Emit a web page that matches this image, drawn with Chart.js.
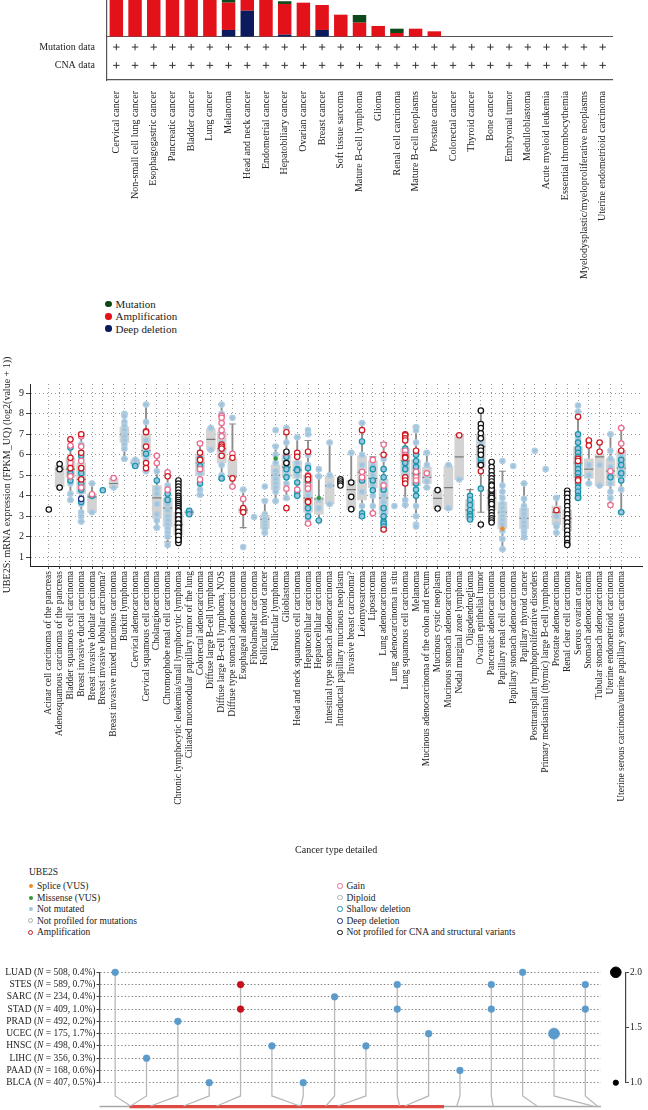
<!DOCTYPE html>
<html><head><meta charset="utf-8">
<script src="https://cdn.jsdelivr.net/npm/chart.js@4.4.0/dist/chart.umd.min.js"></script>
<style>
html,body{margin:0;padding:0;background:#fff;}
body{width:648px;height:1110px;position:relative;overflow:hidden;font-family:'Liberation Serif','Times New Roman',serif;color:#222;}
canvas{position:absolute;}
.t{position:absolute;white-space:nowrap;line-height:12px;}
.m{position:absolute;border-radius:50%;box-sizing:border-box;}
</style></head><body>
<canvas id="cA1" width="648" height="80" style="left:0;top:-43px"></canvas>
<canvas id="cA2" width="648" height="265" style="left:0;top:25px"></canvas>
<canvas id="cB" width="648" height="518" style="left:0;top:340px"></canvas>
<canvas id="cC" width="648" height="148" style="left:0;top:962px"></canvas>
<canvas id="cD" width="52" height="148" style="left:596px;top:962px"></canvas>
<script>
// ---------------- Panel A data ----------------
const topCats = ['Cervical cancer','Non-small cell lung cancer','Esophagogastric cancer','Pancreatic cancer','Bladder cancer','Lung cancer','Melanoma','Head and neck cancer','Endometrial cancer','Hepatobiliary cancer','Ovarian cancer','Breast cancer','Soft tissue sarcoma','Mature B-cell lymphoma','Glioma','Renal cell carcinoma','Mature B-cell neoplasms','Prostate cancer','Colorectal cancer','Thyroid cancer','Bone cancer','Embryonal tumor','Medulloblastoma','Acute myeloid leukemia','Essential thrombocythemia','Myelodysplastic/myeloproliferative neoplasms','Uterine endometrioid carcinoma'];
const deepDeletionPct = [0,0,0,0,0,0,0.88,3.29,0,0.29,0,0.88,0,0,0,0,0,0,0,0,0,0,0,0,0,0,0];
const amplificationPct = [8.3,6.9,6.2,5.6,5.3,5.0,3.41,1.36,4.63,3.84,4.29,3.12,2.79,1.79,1.38,0.5,1.04,0.71,0,0,0,0,0,0,0,0,0];
const mutationPct = [0,0,0,0,0,0,0.45,0,0,0.34,0,0,0,0.96,0,0.54,0,0,0,0,0,0,0,0,0,0,0];
const mutationProfiled = [1,1,1,1,1,1,1,1,1,1,1,1,1,1,1,1,1,1,1,1,1,1,1,1,1,1,1];
const cnaProfiled = [1,1,1,1,1,1,1,1,1,1,1,1,1,1,1,1,1,1,1,1,1,1,1,1,1,1,1];
const profileRows = ['Mutation data','CNA data'];
const topYTicks = [0,5,10];

// ---------------- Panel B data ----------------
const detailCats = ['Acinar cell carcinoma of the pancreas','Adenosquamous carcinoma of the pancreas','Bladder squamous cell carcinoma','Breast invasive ductal carcinoma','Breast invasive lobular carcinoma','Breast invasive lobular carcinoma?','Breast invasive mixed mucinous carcinoma','Burkitt lymphoma','Cervical adenocarcinoma','Cervical squamous cell carcinoma','Cholangiocarcinoma','Chromophobe renal cell carcinoma','Chronic lymphocytic leukemia/small lymphocytic lymphoma','Ciliated muconodular papillary tumor of the lung','Colorectal adenocarcinoma','Diffuse large B-cell lymphoma','Diffuse large B-cell lymphoma, NOS','Diffuse type stomach adenocarcinoma','Esophageal adenocarcinoma','Fibrolamellar carcinoma','Follicular thyroid cancer','Follicular lymphoma','Glioblastoma','Head and neck squamous cell carcinoma','Hepatocellular carcinoma','Hepatocellular carcinoma','Intestinal type stomach adenocarcinoma','Intraductal papillary mucinous neoplasm','Invasive breast carcinoma?','Leiomyosarcoma','Liposarcoma','Lung adenocarcinoma','Lung adenocarcinoma in situ','Lung squamous cell carcinoma','Melanoma','Mucinous adenocarcinoma of the colon and rectum','Mucinous cystic neoplasm','Mucinous stomach adenocarcinoma','Nodal marginal zone lymphoma','Oligodendroglioma','Ovarian epithelial tumor','Pancreatic adenocarcinoma','Papillary renal cell carcinoma','Papillary stomach adenocarcinoma','Papillary thyroid cancer','Posttransplant lymphoproliferative disorders','Primary mediastinal (thymic) large B-cell lymphoma','Prostate adenocarcinoma','Renal clear cell carcinoma','Serous ovarian cancer','Stomach adenocarcinoma','Tubular stomach adenocarcinoma','Uterine endometrioid carcinoma','Uterine serous carcinoma/uterine papillary serous carcinoma'];
const boxQ1 =  [null,4.45,4.9,4.1,3.2,null,4.4,6.6,5.5,5.9,2.9,2.5,2.1,3.1,5.0,6.25,5.6,4.9,3.15,null,2.4,4.3,4.9,4.85,3.2,3.1,3.6,null,3.35,3.8,4.4,3.1,null,4.8,4.5,4.6,3.38,3.35,4.8,2.9,5.4,3.3,2.4,null,2.4,null,null,2.6,2.3,4.9,4.85,4.5,4.5,4.9];
const boxMed = [null,5.3,5.3,4.8,3.95,null,4.6,7.0,5.6,6.2,3.9,3.4,2.6,3.2,5.6,6.75,6.3,4.95,3.3,null,2.85,5.0,5.4,5.25,3.9,3.85,4.5,null,4.3,5.15,4.85,3.9,null,5.7,5.1,4.9,3.88,4.4,5.9,3.3,6.4,3.9,3.2,null,2.9,null,null,3.2,2.9,5.6,5.3,5.9,5.2,5.35];
const boxQ3 =  [null,5.45,5.85,5.6,4.1,null,4.85,7.35,5.75,7.0,4.5,3.9,3.2,3.27,6.0,7.25,7.1,5.8,3.4,null,3.05,5.5,6.0,5.7,5.0,3.9,4.97,null,4.75,5.95,5.7,4.8,null,6.3,5.75,5.4,4.28,5.45,6.95,3.8,7.0,4.3,3.7,null,3.4,null,null,3.5,3.3,6.4,5.8,6.0,5.8,6.2];
const whiskLo = [null,4.4,3.8,2.75,3.2,null,4.4,5.8,5.45,5.2,2.45,1.75,1.7,3.1,4.05,6.2,4.8,4.45,2.45,null,2.2,3.75,3.85,4.0,2.6,2.8,3.6,null,3.35,2.95,3.15,2.3,null,3.55,3.0,4.4,3.38,3.35,4.8,2.85,3.2,2.7,1.4,null,1.9,null,null,2.2,1.6,3.9,4.6,4.5,3.6,3.2];
const whiskHi = [null,5.55,6.75,7.0,4.6,null,4.87,8.0,5.75,8.45,5.95,5.15,4.75,3.27,6.6,7.3,8.45,7.5,4.3,null,3.8,6.45,7.3,6.85,6.7,4.95,6.6,null,6.1,7.55,5.9,6.6,null,7.0,7.35,6.1,4.28,5.5,6.95,4.3,8.15,5.65,5.2,null,4.6,null,null,3.95,4.25,8.1,6.7,6.6,7.0,7.3];
const yTicksB = [1,2,3,4,5,6,7,8,9];
// points: [category index, log2 expression]
const ptDiploid = [[2,5.5],[2,5.2],[2,4.6],[2,4.1],[2,3.8],[3,6.5],[3,5.8],[3,5.0],[3,4.2],[3,3.6],[3,3.2],[3,3.0],[3,2.75],[3,4.5],[4,4.6],[4,3.2],[6,4.4],[7,8.0],[7,7.9],[7,7.6],[7,7.4],[7,7.2],[7,7.0],[7,6.9],[7,6.7],[7,6.5],[7,6.3],[7,5.8],[8,5.6],[8,5.75],[9,8.45],[9,7.6],[9,6.7],[9,6.2],[9,5.8],[9,5.2],[10,5.2],[10,4.35],[10,4.1],[10,3.6],[10,3.1],[10,2.8],[10,2.45],[11,5.0],[11,4.5],[11,3.9],[11,3.6],[11,3.3],[11,3.0],[11,2.8],[11,2.6],[11,2.4],[11,2.2],[11,2.0],[11,1.6],[14,5.6],[14,5.1],[14,4.3],[14,4.05],[15,7.3],[15,6.25],[16,8.45],[16,8.0],[16,7.0],[16,6.6],[16,6.2],[16,5.5],[16,5.0],[17,7.8],[17,4.9],[18,4.3],[18,1.5],[19,2.97],[20,4.45],[20,3.75],[20,3.1],[20,2.95],[20,2.85],[20,2.7],[20,2.55],[20,2.4],[20,2.2],[21,7.2],[21,6.4],[21,6.0],[21,5.6],[21,5.2],[21,5.0],[21,4.8],[21,4.6],[21,4.4],[21,4.2],[21,3.75],[22,7.3],[22,6.6],[22,5.0],[22,4.6],[22,3.9],[23,6.85],[23,5.6],[23,5.0],[24,7.2],[24,7.0],[24,6.0],[24,5.5],[24,4.2],[24,4.0],[24,3.6],[24,3.2],[24,2.9],[25,5.3],[25,4.95],[25,3.8],[25,3.4],[26,6.6],[26,5.0],[26,4.5],[26,3.6],[28,6.1],[29,7.55],[29,6.0],[29,5.5],[29,4.2],[29,3.5],[30,5.5],[30,5.0],[30,4.5],[30,4.0],[30,3.5],[31,5.8],[31,4.6],[31,4.0],[31,3.7],[31,3.2],[31,2.9],[32,3.5],[33,5.5],[33,5.0],[33,3.8],[33,3.55],[34,7.35],[34,7.2],[34,6.6],[34,5.5],[34,3.5],[34,3.0],[34,2.6],[34,2.5],[35,6.1],[35,5.5],[35,5.0],[35,4.7],[35,4.4],[37,5.5],[37,3.4],[38,4.8],[40,6.6],[40,5.9],[42,5.7],[42,4.5],[42,4.2],[42,3.9],[42,3.6],[42,3.4],[42,3.2],[42,3.0],[42,2.8],[42,2.6],[42,2.3],[42,1.9],[42,1.4],[43,5.45],[44,4.6],[44,3.86],[44,3.5],[44,3.3],[44,3.1],[44,2.9],[44,2.7],[44,2.5],[44,2.3],[44,2.2],[44,2.0],[45,6.2],[46,5.3],[47,3.9],[47,3.0],[47,2.6],[47,2.5],[47,2.2],[48,3.0],[48,2.6],[48,2.2],[48,1.8],[49,8.4],[49,8.1],[49,6.8],[50,6.7],[50,5.5],[50,5.0],[50,4.6],[51,5.5],[51,4.5],[52,7.0],[52,6.2],[52,5.8],[52,5.4],[52,5.0],[52,4.6],[52,4.2],[52,3.9],[53,6.0],[53,5.3],[53,4.9],[53,4.3]];
const ptShallow = [[2,6.35],[2,5.1],[2,4.75],[3,5.95],[3,5.1],[3,4.6],[3,4.3],[3,3.7],[4,4.0],[5,4.27],[8,5.45],[9,6.05],[10,4.75],[11,4.1],[11,3.8],[13,3.27],[13,3.1],[14,5.8],[14,5.45],[14,4.6],[16,4.85],[22,5.9],[22,5.6],[22,5.3],[22,4.9],[23,5.3],[23,5.25],[23,4.65],[23,4.2],[23,4.0],[24,5.35],[24,4.9],[24,4.7],[24,3.4],[24,3.0],[25,2.8],[29,6.65],[29,4.75],[29,3.15],[29,3.0],[30,5.3],[30,4.75],[30,4.27],[31,5.3],[31,4.9],[31,4.3],[31,3.4],[31,3.0],[31,2.73],[31,2.65],[31,2.5],[33,6.3],[33,6.1],[33,5.6],[33,5.3],[34,6.0],[34,5.7],[34,5.4],[34,5.0],[34,4.6],[34,4.3],[34,4.0],[39,4.0],[39,3.8],[39,3.55],[39,3.3],[39,3.1],[39,3.0],[39,2.85],[40,6.1],[40,5.8],[40,5.6],[40,4.35],[49,7.0],[49,6.6],[49,6.3],[49,6.1],[49,5.9],[49,5.5],[49,5.3],[49,5.1],[49,4.9],[49,4.6],[49,4.4],[49,4.2],[49,4.0],[49,3.9],[52,4.9],[53,5.75],[53,5.5],[53,5.1],[53,4.75],[53,3.2]];
const ptGain = [[2,6.45],[2,5.6],[2,4.95],[3,6.9],[3,6.4],[3,5.7],[3,4.4],[4,4.08],[6,4.87],[10,5.95],[10,5.6],[11,5.15],[11,4.3],[14,6.55],[14,5.3],[14,4.8],[16,7.9],[16,7.8],[16,7.55],[16,7.2],[16,6.9],[17,6.05],[17,4.45],[18,3.85],[22,6.1],[22,4.35],[23,6.05],[23,4.3],[24,5.0],[24,4.5],[24,4.35],[24,2.65],[29,5.17],[29,4.9],[30,5.75],[30,3.15],[31,6.5],[31,4.5],[33,6.2],[33,6.0],[34,5.17],[34,4.9],[34,4.75],[35,5.1],[48,2.9],[52,5.2],[52,3.55],[53,7.3],[53,6.55]];
const ptAmp = [[2,6.75],[2,5.85],[2,5.35],[3,7.0],[3,6.1],[3,5.35],[3,4.8],[9,7.15],[9,7.1],[9,6.4],[9,5.6],[9,5.35],[11,4.95],[14,6.1],[14,5.75],[16,6.5],[16,6.4],[16,6.3],[16,5.95],[17,5.85],[17,4.85],[18,3.4],[18,3.2],[22,7.1],[22,3.4],[23,6.1],[23,5.9],[24,6.15],[24,4.95],[24,4.8],[24,3.75],[24,3.7],[29,7.2],[31,6.0],[31,2.36],[33,7.0],[33,6.95],[33,6.8],[33,6.7],[33,5.9],[33,5.85],[33,4.9],[33,4.75],[33,4.6],[34,6.2],[38,6.95],[40,5.5],[40,5.2],[47,3.3],[49,7.85],[49,5.8],[49,5.7],[49,4.8],[49,4.75],[50,6.7],[50,6.45],[51,6.6],[51,6.15],[53,6.2]];
const ptDeep = [[3,3.85]];
const ptNoCNA = [[0,3.33],[1,5.55],[1,5.3],[1,4.4],[12,4.75],[12,4.6],[12,4.45],[12,4.3],[12,4.15],[12,4.0],[12,3.9],[12,3.8],[12,3.7],[12,3.6],[12,3.5],[12,3.4],[12,3.3],[12,3.2],[12,3.1],[12,3.0],[12,2.9],[12,2.8],[12,2.7],[12,2.6],[12,2.5],[12,2.4],[12,2.3],[12,2.2],[12,2.1],[12,2.0],[12,1.9],[12,1.8],[12,1.7],[12,2.95],[12,2.75],[12,2.55],[12,2.35],[12,2.15],[12,1.95],[12,3.25],[12,3.05],[12,2.85],[12,2.65],[12,2.45],[12,2.25],[12,2.05],[12,1.85],[22,6.15],[22,5.6],[27,4.8],[27,4.7],[27,4.6],[27,4.5],[28,4.65],[28,3.95],[28,3.35],[36,4.28],[36,3.38],[40,8.15],[40,7.5],[40,7.3],[40,7.05],[40,6.8],[40,6.35],[40,6.2],[40,6.0],[40,5.5],[40,2.6],[41,5.65],[41,5.4],[41,5.2],[41,5.0],[41,4.85],[41,4.7],[41,4.55],[41,4.4],[41,4.25],[41,4.1],[41,3.95],[41,3.8],[41,3.65],[41,3.5],[41,3.35],[41,3.2],[41,3.05],[41,2.9],[41,2.8],[41,2.7],[41,4.0],[41,3.9],[41,3.7],[41,3.6],[41,4.3],[41,4.5],[48,4.25],[48,4.1],[48,3.9],[48,3.7],[48,3.5],[48,3.3],[48,3.1],[48,2.9],[48,2.7],[48,2.5],[48,2.3],[48,2.1],[48,1.9],[48,1.7],[48,1.6]];
const ptMissense = [[21,5.82],[25,3.9]];
const ptSplice = [[42,2.4]];

// ---------------- Panel C data ----------------
const studies = ['LUAD','STES','SARC','STAD','PRAD','UCEC','HNSC','LIHC','PAAD','BLCA'];
const studyN = [508,589,234,409,492,175,498,356,168,407];
const studyPct = ['0.4','0.7','0.4','1.0','0.2','1.7','0.4','0.3','0.6','0.5'];
const lolliStudy = ['LUAD','LUAD','STES','STES','STES','STES','SARC','STAD','STAD','STAD','STAD','PRAD','UCEC','UCEC','HNSC','HNSC','LIHC','PAAD','BLCA','BLCA'];
const lolliCol   = [0,13,4,9,12,15,7,4,9,12,15,2,10,14,5,8,1,11,3,6];
const lolliCount = [1,1,1,1,1,1,1,1,1,1,1,1,1,2,1,1,1,1,1,1];
const lolliGroup = ['blue','blue','red','blue','blue','blue','blue','red','blue','blue','blue','blue','blue','blue','blue','blue','blue','blue','blue','blue'];
const stemTarget = [0.49,0.49,1.13,2.18,3.24,5.89,5.92,6.72,7.1,9.08,9.24,10.9,12.06,13.46,15.25,15.38];
const proteinSpan = [-0.5,15.5];
const domainSpan = [0.46,10.49];
const sizeLegendValues = [1,2];

// ---------------- common ----------------
const SERIF = "'Liberation Serif','Times New Roman',serif";
Chart.defaults.font.family = SERIF;
Chart.defaults.color = '#222';
const base = {responsive:false, animation:false, devicePixelRatio:1, plugins:{legend:{display:false}, tooltip:{enabled:false}}};

// ---------------- Panel A: stacked bars ----------------
new Chart(document.getElementById('cA1'), {
  type:'bar',
  data:{labels:topCats, datasets:[
    {label:'Deep deletion', data:deepDeletionPct, backgroundColor:'#0b1b5e'},
    {label:'Amplification', data:amplificationPct, backgroundColor:'#e2111a'},
    {label:'Mutation', data:mutationPct, backgroundColor:'#0d4a1b'}
  ].map(d=>Object.assign(d,{barPercentage:0.72, categoryPercentage:1, borderWidth:0}))},
  options:Object.assign({}, base, {
    layout:{padding:{left:0,right:36,top:0,bottom:0}},
    scales:{
      x:{stacked:true, offset:true, ticks:{display:false}, grid:{display:false}, border:{display:true,color:'#555',width:1.2}, afterFit:s=>{s.height=0;}},
      y:{stacked:true, min:0, max:10, afterBuildTicks:s=>{s.ticks=topYTicks.map(v=>({value:v}));},
         ticks:{display:false},
         grid:{drawOnChartArea:false, tickLength:3, color:'#555'}, border:{color:'#555',width:1.2},
         afterFit:s=>{s.width=107;}}
    }
  })
});

// ---------------- Panel A: profile rows ----------------
new Chart(document.getElementById('cA2'), {
  type:'scatter',
  data:{datasets:[
    {data:topCats.map((c,i)=>mutationProfiled[i]?{x:c,y:2}:null).filter(Boolean)},
    {data:topCats.map((c,i)=>cnaProfiled[i]?{x:c,y:1}:null).filter(Boolean)}
  ].map(d=>Object.assign(d,{pointStyle:'cross', pointRadius:3.2, borderColor:'#333', backgroundColor:'#333', borderWidth:1}))},
  options:Object.assign({}, base, {
    layout:{padding:{left:0,right:36,top:12,bottom:0}},
    scales:{
      x:{type:'category', labels:topCats, offset:true,
         ticks:{autoSkip:false, minRotation:90, maxRotation:90, font:{size:10}, padding:3, color:'#222'},
         grid:{display:false}, border:{color:'#555',width:1.2}, afterFit:s=>{s.height=210;}},
      y:{type:'linear', min:0.2, max:2.55, afterBuildTicks:s=>{s.ticks=[{value:2},{value:1}];},
         ticks:{font:{size:10}, padding:4, callback:v=> v===2?profileRows[0]:(v===1?profileRows[1]:'')},
         grid:{display:false}, border:{color:'#555',width:1.2}, afterFit:s=>{s.width=107;}}
    }
  })
});

// ---------------- Panel B: boxes + points ----------------
const boxes=[], whisk=[], caps=[], meds=[];
detailCats.forEach((c,i)=>{
  if(boxQ1[i]!==null){ boxes.push({x:i,y:[boxQ1[i],boxQ3[i]]}); meds.push({x:i,y:boxMed[i]}); }
  if(whiskLo[i]!==null){ whisk.push({x:i,y:[whiskLo[i],whiskHi[i]]}); caps.push({x:i,y:whiskLo[i]}); caps.push({x:i,y:whiskHi[i]}); }
});
const toXY = arr => arr.map(p=>({x:p[0],y:p[1]}));
function pts(arr, fill, stroke, order, r, bw){
  return {type:'scatter', data:toXY(arr), order:order, pointRadius:r||2.7, pointBorderWidth:bw||1.2,
          pointBackgroundColor:fill, pointBorderColor:stroke, clip:false};
}
new Chart(document.getElementById('cB'), {
  type:'scatter',
  data:{datasets:[
    {type:'bar', data:whisk, order:50, grouped:false, barThickness:1.2, backgroundColor:'#8c8c8c', borderWidth:0},
    {type:'bar', data:boxes, order:40, grouped:false, barThickness:9, backgroundColor:'#d3d3d3', borderWidth:0},
    {type:'scatter', data:caps, order:35, pointStyle:'line', pointRadius:3.5, pointBorderWidth:1.1, pointBorderColor:'#8c8c8c'},
    {type:'scatter', data:meds, order:34, pointStyle:'line', pointRadius:4.5, pointBorderWidth:1.2, pointBorderColor:'#7a7a7a'},
    pts(ptDiploid,'#9fc4de','#b4cfe2',20),
    pts(ptShallow,'#9fc4de','#1596ad',15),
    pts(ptGain,'#ffffff','#ec6a8d',14),
    pts(ptAmp,'#ffffff','#d3141c',13),
    pts(ptDeep,'#ffffff','#1d2a86',12),
    pts(ptNoCNA,'#ffffff','#111111',11),
    pts(ptMissense,'#2e9a3a','#2e9a3a',10,2,0.5),
    pts(ptSplice,'#f08a24','#f08a24',9,2,0.5)
  ]},
  options:Object.assign({}, base, {
    layout:{padding:{left:0,right:0,top:44,bottom:0}},
    scales:{
      x:{type:'linear', min:-1.743, max:54.95, offset:false,
         afterBuildTicks:s=>{s.ticks=detailCats.map((c,i)=>({value:i}));},
         ticks:{autoSkip:false, minRotation:90, maxRotation:90, font:{size:9.5}, padding:2, color:'#222', callback:v=>detailCats[v]},
         grid:{color:'#9a9a9a', lineWidth:1, tickLength:3, tickColor:'#444', tickBorderDash:[], offset:false},
         border:{display:true, color:'#222', width:1, dash:[1,3]},
         title:{display:true, text:'Cancer type detailed', font:{size:10}, color:'#222', padding:{top:4,bottom:2}},
         afterFit:s=>{s.height=292;}},
      y:{type:'linear', min:0.58, max:9.45,
         afterBuildTicks:s=>{s.ticks=yTicksB.map(v=>({value:v}));},
         ticks:{font:{size:10}, padding:2, color:'#222'},
         grid:{color:'#9a9a9a', tickLength:4, tickColor:'#444', tickBorderDash:[]},
         border:{color:'#222', width:1, dash:[1,3]},
         title:{display:true, text:'UBE2S: mRNA expression (FPKM_UQ) (log2(value + 1))', font:{size:10}, color:'#222', padding:{top:1,bottom:0}},
         afterFit:s=>{s.width=30;}}
    }
  })
});

// ---------------- Panel C: mutation lollipops ----------------
const rowOf = st => studies.length-1-studies.indexOf(st);
const dotsBlue=[], dotsRed=[];
lolliStudy.forEach((st,i)=>{
  const p={x:lolliCol[i], y:rowOf(st), n:lolliCount[i]};
  (lolliGroup[i]==='red'?dotsRed:dotsBlue).push(p);
});
const stemSets = stemTarget.map((t,col)=>{
  const rows = lolliStudy.map((st,i)=>lolliCol[i]===col?rowOf(st):-99).filter(v=>v>-99);
  const top = Math.max.apply(null, rows);
  return {type:'line', data:[{x:col,y:top},{x:col,y:-1.08},{x:t,y:-1.9}], borderColor:'#b9b9b9', borderWidth:1.3, pointRadius:0, order:30, clip:false, tension:0};
});
const rowLabelPlugin = {
  id:'rowLabels',
  afterDraw(chart){
    const ctx=chart.ctx, s=chart.scales.y;
    ctx.save(); ctx.fillStyle='#222'; ctx.textBaseline='middle';
    studies.forEach((st,i)=>{
      const y=s.getPixelForValue(rowOf(st));
      const parts=[[st+' (', 'normal'],['N','italic'],[' = '+studyN[i]+', '+studyPct[i]+'%)','normal']];
      let w=0; parts.forEach(p=>{ctx.font=p[1]+' 9.5px '+SERIF; p.w=ctx.measureText(p[0]).width; w+=p.w;});
      let x=95.5-w;
      parts.forEach(p=>{ctx.font=p[1]+' 9.5px '+SERIF; ctx.fillText(p[0],x,y); x+=p.w;});
    });
    ctx.restore();
  }
};
new Chart(document.getElementById('cC'), {
  type:'scatter',
  data:{datasets:[
    {type:'line', data:[{x:proteinSpan[0],y:-1.95},{x:proteinSpan[1],y:-1.95}], borderColor:'#a8a8a8', borderWidth:1.5, pointRadius:0, order:40, clip:false},
    {type:'line', data:[{x:domainSpan[0],y:-1.95},{x:domainSpan[1],y:-1.95}], borderColor:'#dc4a42', borderWidth:3.2, pointRadius:0, order:39, clip:false},
    ...stemSets,
    {type:'scatter', data:dotsBlue, order:2, pointRadius:c=>c.raw&&c.raw.n===2?5.6:3.4, pointBackgroundColor:'#5b9bcc', pointBorderColor:'#5b9bcc', pointBorderWidth:0.5, clip:false},
    {type:'scatter', data:dotsRed, order:1, pointRadius:3.4, pointBackgroundColor:'#c8101c', pointBorderColor:'#c8101c', pointBorderWidth:0.5, clip:false}
  ]},
  options:Object.assign({}, base, {
    layout:{padding:{left:0,right:47,top:10.3,bottom:27.3}},
    scales:{
      x:{type:'linear', min:-0.5, max:15.5, display:false},
      y:{type:'linear', min:0, max:9, afterBuildTicks:s=>{s.ticks=studies.map((st,i)=>({value:i}));},
         ticks:{display:false},
         grid:{color:'#7a7a7a', tickLength:3, tickColor:'#444', tickBorderDash:[]},
         border:{color:'#444', width:1.3, dash:[1.3,2.2]},
         afterFit:s=>{s.width=99.5;}}
    }
  }),
  plugins:[rowLabelPlugin]
});

// ---------------- Panel C: size legend ----------------
new Chart(document.getElementById('cD'), {
  type:'scatter',
  data:{datasets:[{data:sizeLegendValues.map(v=>({x:0.57,y:v})), pointRadius:c=>c.raw&&c.raw.y===2?5.3:2.6, pointBackgroundColor:'#000', pointBorderColor:'#000', clip:false}]},
  options:Object.assign({}, base, {
    layout:{padding:{left:0,right:0,top:10.3,bottom:27.3}},
    scales:{
      x:{type:'linear', min:0, max:1, display:false},
      y:{type:'linear', position:'right', min:1, max:2, afterBuildTicks:s=>{s.ticks=[1,1.5,2].map(v=>({value:v}));},
         ticks:{font:{size:9.5}, padding:1, color:'#222', callback:v=>v.toFixed(1)},
         grid:{drawOnChartArea:false, tickLength:3, color:'#444'}, border:{color:'#444',width:1.2},
         afterFit:s=>{s.width=22;}}
    }
  })
});

// ---------------- HTML legends ----------------
function addMarker(cx,cy,d,fill,stroke,bw){
  const m=document.createElement('div'); m.className='m';
  m.style.left=(cx-d/2)+'px'; m.style.top=(cy-d/2)+'px'; m.style.width=d+'px'; m.style.height=d+'px';
  m.style.background=fill; if(stroke){m.style.border=bw+'px solid '+stroke;}
  document.body.appendChild(m);
}
function addText(x,cy,txt,size){
  const t=document.createElement('div'); t.className='t'; t.textContent=txt;
  t.style.left=x+'px'; t.style.top=(cy-6)+'px'; t.style.fontSize=size+'px';
  document.body.appendChild(t);
  return t;
}
// partially visible top tick label of panel A
addText(96,-4,'5',11);

const legendA = [['Mutation','#0d4a1b'],['Amplification','#e2111a'],['Deep deletion','#0b1b5e']];
legendA.forEach((it,i)=>{ const cy=304+i*12.3; addMarker(108.7,cy,6.5,it[1]); addText(115.5,cy,it[0],11); });

addText(29,872,'UBE2S',9.5);
const legendMut = [['Splice (VUS)','#f08a24',null,4],['Missense (VUS)','#2e9a3a',null,4],['Not mutated','#9fc4de',null,4],['Not profiled for mutations','#fff','#aaa',5],['Amplification','#fff','#d3141c',5.5]];
const legendCNA = [['Gain','#fff','#ec6a8d',5.5],['Diploid','#fff','#b0b0b0',5.5],['Shallow deletion','#fff','#1596ad',5.5],['Deep deletion','#fff','#1d2a86',5.5],['Not profiled for CNA and structural variants','#fff','#111',5.5]];
legendMut.forEach((it,i)=>{ const cy=886+i*11.6; addMarker(30.7,cy,it[3],it[1],it[2],1.3); addText(37,cy,it[0],9.5); });
legendCNA.forEach((it,i)=>{ const cy=886+i*11.6; addMarker(340,cy,it[3],it[1],it[2],1.3); addText(346.5,cy,it[0],9.5); });
</script>
</body></html>
